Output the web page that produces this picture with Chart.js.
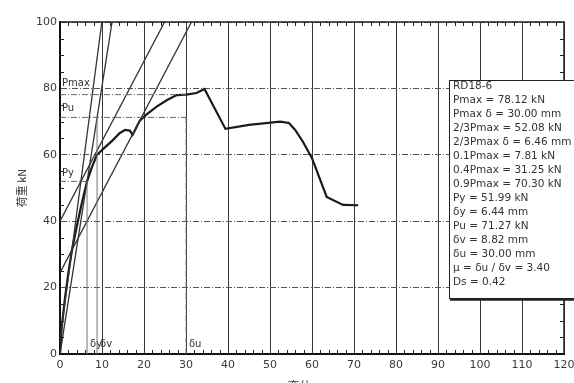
<!DOCTYPE html>
<html>
<head>
<meta charset="utf-8">
<script src="https://cdn.jsdelivr.net/npm/chart.js@4.4.1/dist/chart.umd.min.js"></script>
<style>
html, body { margin: 0; padding: 0; background: #fff; overflow: hidden; }
canvas { display: block; }
</style>
</head>
<body>
<canvas id="loadChart" width="574" height="394"></canvas>
<script>
// load - displacement envelope (mm, kN)
const dispMm = [0, 0.39, 1.2, 2.0, 2.84, 4.0, 5.2, 6.44, 7.6, 8.8, 10.5, 12.4, 14.2, 15.5, 16.6, 17.3, 18.2, 19.0, 20.5, 23.0, 25.5, 27.8, 30.0, 32.5, 34.4, 39.4, 45.0, 52.4, 54.5, 56.0, 57.8, 60.0, 63.5, 67.4, 71.0];
const loadKn = [0, 7.81, 17.0, 24.5, 31.25, 38.5, 45.5, 51.99, 56.3, 60.0, 62.0, 64.2, 66.5, 67.5, 67.3, 66.0, 68.3, 70.3, 72.0, 74.5, 76.5, 78.0, 78.12, 78.6, 79.8, 67.8, 69.0, 70.0, 69.6, 67.5, 64.0, 59.0, 47.3, 44.9, 44.8];

// evaluation results
const specimen = 'RD18-6';
const pMax = 78.12, deltaPmax = 30.00;
const p23 = 52.08, delta23 = 6.46;
const p01 = 7.81, p04 = 31.25, p09 = 70.30;
const pY = 51.99, deltaY = 6.44;
const pU = 71.27, deltaV = 8.82, deltaU = 30.00;
const mu = 3.40, ds = 0.42;

// construction lines (end points)
const lineIx = [0, 9.96], lineIy = [4.0, 100];
const lineIIx = [0, 31.3], lineIIy = [24.5, 100];
const lineIIIx = [0, 24.9], lineIIIy = [40, 100];
const lineIVx = [0, 12.4], lineIVy = [0, 100];

const xTicks = [0, 10, 20, 30, 40, 50, 60, 70, 80, 90, 100, 110, 120];
const yTicks = [0, 20, 40, 60, 80, 100];

const pts = (xs, ys) => xs.map((x, i) => ({ x: x, y: ys[i] }));

const infoLines = [
    specimen,
    'Pmax = ' + pMax.toFixed(2) + ' kN',
    'Pmax δ = ' + deltaPmax.toFixed(2) + ' mm',
    '2/3Pmax = ' + p23.toFixed(2) + ' kN',
    '2/3Pmax δ = ' + delta23.toFixed(2) + ' mm',
    '0.1Pmax = ' + p01.toFixed(2) + ' kN',
    '0.4Pmax = ' + p04.toFixed(2) + ' kN',
    '0.9Pmax = ' + p09.toFixed(2) + ' kN',
    'Py = ' + pY.toFixed(2) + ' kN',
    'δy = ' + deltaY.toFixed(2) + ' mm',
    'Pu = ' + pU.toFixed(2) + ' kN',
    'δv = ' + deltaV.toFixed(2) + ' mm',
    'δu = ' + deltaU.toFixed(2) + ' mm',
    'μ = δu / δv = ' + mu.toFixed(2),
    'Ds = ' + ds.toFixed(2)
];

const thin = (data, color, width, dash) => ({
    data: data,
    borderColor: color,
    borderWidth: width,
    borderDash: dash || [],
    pointRadius: 0,
    fill: false,
    tension: 0
});

// frame, minor ticks, labels and the result box
const decorations = {
    id: 'decorations',
    afterDatasetsDraw(chart) {
        const ctx = chart.ctx;
        const a = chart.chartArea;
        const xs = chart.scales.x, ys = chart.scales.y;
        ctx.save();
        ctx.strokeStyle = '#222';
        ctx.lineWidth = 1.5;
        ctx.beginPath();
        ctx.moveTo(a.left, a.top);
        ctx.lineTo(a.right, a.top);
        ctx.lineTo(a.right, a.bottom);
        ctx.stroke();

        ctx.lineWidth = 1;
        ctx.beginPath();
        for (let v = 2; v < 120; v += 2) {
            if (v % 10 === 0) continue;
            const px = Math.round(xs.getPixelForValue(v)) + 0.5;
            const len = v % 5 === 0 ? 5 : 4;
            ctx.moveTo(px, a.bottom);
            ctx.lineTo(px, a.bottom - len);
            ctx.moveTo(px, a.top);
            ctx.lineTo(px, a.top + len);
        }
        for (let v = 5; v < 100; v += 5) {
            if (v % 20 === 0) continue;
            const py = Math.round(ys.getPixelForValue(v)) + 0.5;
            ctx.moveTo(a.left, py);
            ctx.lineTo(a.left + 4, py);
            ctx.moveTo(a.right, py);
            ctx.lineTo(a.right - 4, py);
        }
        ctx.stroke();

        ctx.fillStyle = '#333';
        ctx.font = '10px "DejaVu Sans"';
        ctx.textBaseline = 'middle';
        ctx.textAlign = 'left';
        ctx.fillText('Pmax', a.left + 2, ys.getPixelForValue(pMax) - 11);
        ctx.fillText('Pu', a.left + 2, ys.getPixelForValue(pU) - 9);
        ctx.fillText('Py', a.left + 2, ys.getPixelForValue(pY) - 8);
        ctx.fillText('δy', xs.getPixelForValue(deltaY) + 3, a.bottom - 10);
        ctx.fillText('δv', xs.getPixelForValue(deltaV) + 3, a.bottom - 10);
        ctx.fillText('δu', xs.getPixelForValue(deltaU) + 3, a.bottom - 10);
        ctx.restore();
    },
    afterDraw(chart) {
        const ctx = chart.ctx;
        const bx = 449, by = 80, bw = 140, bh = 218;
        ctx.save();
        ctx.fillStyle = '#fff';
        ctx.fillRect(bx, by, bw, bh);
        ctx.strokeStyle = '#222';
        ctx.lineWidth = 1;
        ctx.strokeRect(bx + 0.5, by + 0.5, bw, bh);
        ctx.lineWidth = 2.5;
        ctx.beginPath();
        ctx.moveTo(bx + 1, by + bh + 1.5);
        ctx.lineTo(bx + bw, by + bh + 1.5);
        ctx.stroke();
        ctx.fillStyle = '#333';
        ctx.font = '10.5px "DejaVu Sans"';
        ctx.textBaseline = 'middle';
        ctx.textAlign = 'left';
        infoLines.forEach((t, i) => ctx.fillText(t, bx + 4, by + 6 + i * 14));
        ctx.restore();
    }
};

const chart = new Chart(document.getElementById('loadChart').getContext('2d'), {
    type: 'line',
    data: {
        datasets: [
            thin(pts([0, deltaPmax], [pMax, pMax]), '#666', 1, [6, 2, 1, 2]),
            thin(pts([0, deltaU], [pU, pU]), '#666', 1, [6, 2, 1, 2]),
            thin(pts([0, deltaY], [pY, pY]), '#666', 1, [6, 2, 1, 2]),
            thin(pts([deltaY, deltaY], [0, pY]), '#777', 1),
            thin(pts([deltaV, deltaV], [0, pU]), '#777', 1),
            thin(pts([deltaU, deltaU], [0, pU]), '#777', 1, [6, 2, 1, 2]),
            thin(pts(lineIx, lineIy), '#333', 1.3),
            thin(pts(lineIIx, lineIIy), '#333', 1.3),
            thin(pts(lineIIIx, lineIIIy), '#333', 1.3),
            thin(pts(lineIVx, lineIVy), '#333', 1.3),
            thin(pts(dispMm, loadKn), '#1a1a1a', 2.2)
        ]
    },
    options: {
        responsive: false,
        animation: false,
        layout: { padding: { left: 0, right: 10, top: 22, bottom: 0 } },
        plugins: { legend: { display: false }, tooltip: { enabled: false } },
        scales: {
            x: {
                type: 'linear',
                min: 0,
                max: 120,
                afterFit: s => { s.height = 40; s.paddingLeft = 0; s.paddingRight = 0; },
                afterBuildTicks: s => { s.ticks = xTicks.map(v => ({ value: v })); },
                ticks: { color: '#3a3a3a', font: { family: 'DejaVu Sans', size: 11 }, padding: 5, maxRotation: 0 },
                grid: { color: '#3a3a3a', lineWidth: 1, drawTicks: false },
                border: { color: '#111', width: 2 },
                title: { display: true, text: '変位 mm', color: '#333', font: { family: 'Noto Sans CJK JP', size: 12 }, padding: { top: 0, bottom: 0 } }
            },
            y: {
                min: 0,
                max: 100,
                afterFit: s => { s.width = 60; s.paddingTop = 0; s.paddingBottom = 0; },
                afterBuildTicks: s => { s.ticks = yTicks.map(v => ({ value: v })); },
                ticks: { color: '#3a3a3a', font: { family: 'DejaVu Sans', size: 11 }, padding: 3 },
                grid: { color: '#555', lineWidth: 1, drawTicks: false },
                border: { color: '#111', width: 2, dash: [6, 2, 1, 2] },
                title: { display: true, text: '荷重 kN', color: '#333', font: { family: 'Noto Sans CJK JP', size: 11 }, padding: { top: 15, bottom: 0 } }
            }
        }
    },
    plugins: [decorations]
});
</script>
</body>
</html>
